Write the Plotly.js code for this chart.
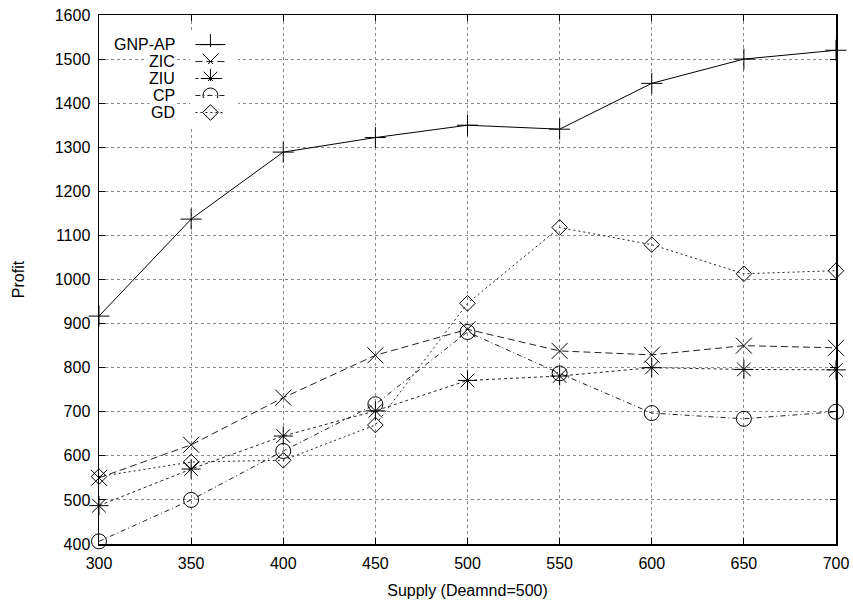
<!DOCTYPE html>
<html>
<head>
<meta charset="utf-8">
<script src="https://cdn.plot.ly/plotly-3.0.1.min.js"></script>
<style>html,body{margin:0;padding:0;background:#fff;}#chart{width:853px;height:603px;}</style>
</head>
<body>
<div id="chart"></div>
<script>
const supply = [300, 350, 400, 450, 500, 550, 600, 650, 700];
const seriesNames = ["GNP-AP", "ZIC", "ZIU", "CP", "GD"];
const gnpap = [917, 1137, 1289, 1322, 1350, 1341, 1445, 1500, 1520];
const zic = [550, 625, 732, 828, 887, 838, 829, 850, 845];
const ziu = [487, 570, 645, 702, 771, 781, 800, 796, 795];
const cp = [406, 500, 611, 717, 881, 787, 697, 684, 700];
const gd = [553, 586, 590, 670, 946, 1118, 1079, 1013, 1020];
const xTicks = [300, 350, 400, 450, 500, 550, 600, 650, 700];
const yTicks = [400, 500, 600, 700, 800, 900, 1000, 1100, 1200, 1300, 1400, 1500, 1600];

const seriesValues = [gnpap, zic, ziu, cp, gd];
const symbols = ["cross-thin-open", "x-thin-open", "asterisk-open", "circle-open", "diamond-open"];
const sizes = [15, 16, 16, 15, 12];
const dashes = ["solid", "7px,4px", "3px,3px", "5px,3px,1px,3px", "2px,3px"];
const lineColors = ["#000", "#222", "#222", "#222", "#222"];

const legendIds = ["legend", "legend2", "legend3", "legend4", "legend5"];
const fontFam = "Liberation Sans, Arial, sans-serif";

const traces = seriesValues.map((vals, i) => ({
  x: supply, y: vals, type: "scatter", mode: "lines+markers",
  name: " ",
  legend: legendIds[i],
  cliponaxis: false,
  line: {color: lineColors[i], width: 1, dash: dashes[i]},
  marker: {symbol: symbols[i], size: sizes[i], color: "#000", line: {color: "#000", width: 1}}
}));

const rowY = i => 1 - (44.3 + i * 17 - 14.7) / 529.6;

const annotations = seriesNames.map((n, i) => ({
  text: n, xref: "paper", yref: "paper",
  x: (177 - 98.5) / 737.5, y: rowY(i),
  xanchor: "right", yanchor: "middle", showarrow: false,
  font: {family: fontFam, size: 16, color: "#000"},
  bgcolor: "#fff", borderpad: 1
}));

const axisCommon = {
  showline: true, linecolor: "#000", linewidth: 1.5, mirror: "ticks",
  ticks: "inside", ticklen: 6, tickcolor: "#000", tickwidth: 1,
  showgrid: true, gridcolor: "#888", griddash: "dot", gridwidth: 1,
  zeroline: false,
  tickfont: {family: fontFam, size: 16, color: "#000"}
};

const layout = {
  width: 853, height: 603,
  margin: {l: 98.5, r: 17, t: 14.7, b: 58.7},
  paper_bgcolor: "#fff", plot_bgcolor: "#fff",
  showlegend: true,
  xaxis: Object.assign({}, axisCommon, {
    range: [300, 700], tickvals: xTicks, ticktext: xTicks.map(String),
    ticklabelstandoff: 4,
    title: {text: "Supply (Deamnd=500)", font: {family: fontFam, size: 16, color: "#000"}, standoff: 14}
  }),
  yaxis: Object.assign({}, axisCommon, {
    range: [400, 1600], tickvals: yTicks, ticktext: yTicks.map(String),
    ticklabelstandoff: 4,
    title: {text: "Profit", font: {family: fontFam, size: 16, color: "#000"}, standoff: 26}
  }),
  annotations: annotations
};

legendIds.forEach((id, i) => {
  layout[id] = {
    x: (190 - 98.5) / 737.5, y: rowY(i), xanchor: "left", yanchor: "middle",
    bgcolor: "#fff", borderwidth: 0, font: {family: fontFam, size: 8},
    itemwidth: 30
  };
});

Plotly.newPlot("chart", traces, layout, {displayModeBar: false, staticPlot: true});
</script>
</body>
</html>
